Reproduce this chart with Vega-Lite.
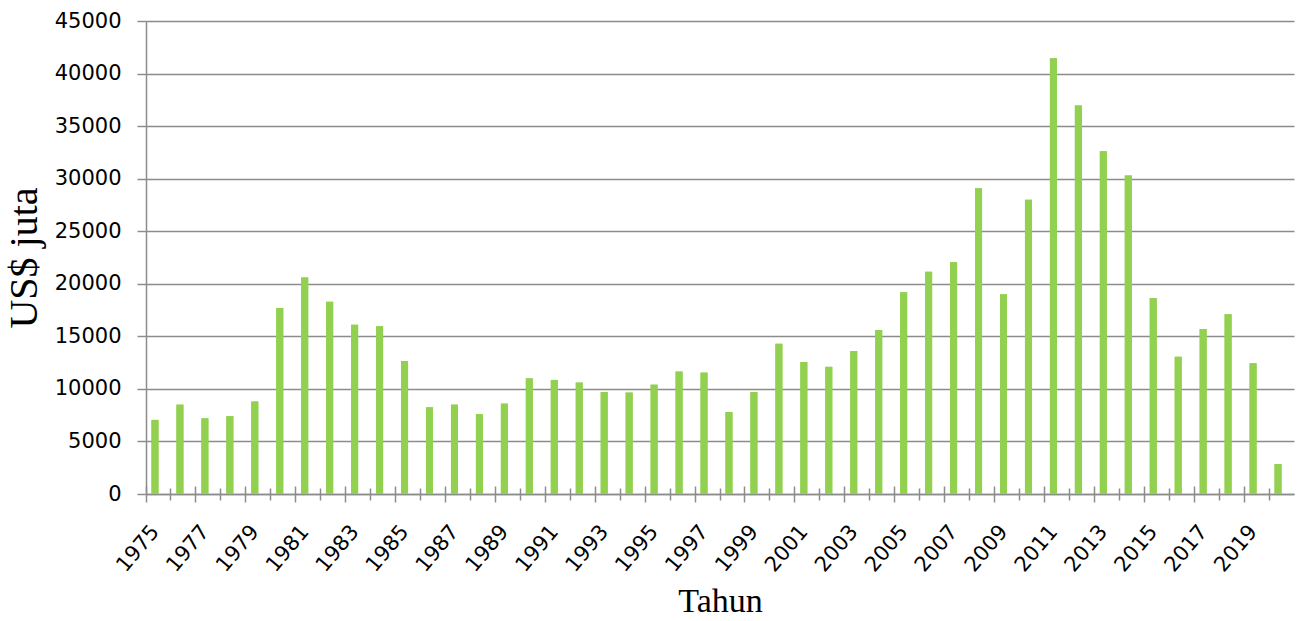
{
  "$schema": "https://vega.github.io/schema/vega-lite/v6.json",
  "autosize": "none",
  "width": 1148,
  "height": 473,
  "padding": {"left": 146, "top": 21, "right": 11, "bottom": 127},
  "background": "white",
  "data": {"values": [
    {"year": 1975, "value": 7050}, {"year": 1976, "value": 8500}, {"year": 1977, "value": 7200}, {"year": 1978, "value": 7400},
    {"year": 1979, "value": 8800}, {"year": 1980, "value": 17700}, {"year": 1981, "value": 20600}, {"year": 1982, "value": 18300},
    {"year": 1983, "value": 16100}, {"year": 1984, "value": 15950}, {"year": 1985, "value": 12650}, {"year": 1986, "value": 8250},
    {"year": 1987, "value": 8500}, {"year": 1988, "value": 7600}, {"year": 1989, "value": 8600}, {"year": 1990, "value": 11000},
    {"year": 1991, "value": 10850}, {"year": 1992, "value": 10600}, {"year": 1993, "value": 9700}, {"year": 1994, "value": 9650},
    {"year": 1995, "value": 10400}, {"year": 1996, "value": 11650}, {"year": 1997, "value": 11550}, {"year": 1998, "value": 7800},
    {"year": 1999, "value": 9700}, {"year": 2000, "value": 14300}, {"year": 2001, "value": 12550}, {"year": 2002, "value": 12100},
    {"year": 2003, "value": 13600}, {"year": 2004, "value": 15600}, {"year": 2005, "value": 19200}, {"year": 2006, "value": 21150},
    {"year": 2007, "value": 22050}, {"year": 2008, "value": 29100}, {"year": 2009, "value": 19000}, {"year": 2010, "value": 28000},
    {"year": 2011, "value": 41450}, {"year": 2012, "value": 36950}, {"year": 2013, "value": 32600}, {"year": 2014, "value": 30300},
    {"year": 2015, "value": 18650}, {"year": 2016, "value": 13050}, {"year": 2017, "value": 15700}, {"year": 2018, "value": 17100},
    {"year": 2019, "value": 12450}, {"year": 2020, "value": 2850}
  ]},
  "config": {
    "view": {"stroke": null},
    "axis": {"labelFont": "DejaVu Sans", "labelColor": "#000000", "titleFont": "Liberation Serif", "titleColor": "#000000", "titleFontWeight": "normal"}
  },
  "layer": [
    {
      "mark": {"type": "bar", "color": "#92D050", "width": 7, "xOffset": -3.5},
      "encoding": {
        "x": {
          "field": "year", "type": "ordinal",
          "scale": {"paddingInner": 0, "paddingOuter": 0},
          "axis": {
            "title": "Tahun", "titleFontSize": 34, "titleY": 117, "titleBaseline": "alphabetic",
            "bandPosition": 0, "labelOffset": -3,
            "labelAngle": -50, "labelFontSize": 21, "labelPadding": 26,
            "labelOverlap": false,
            "labelExpr": "datum.value % 2 == 1 ? datum.label : ''",
            "domainColor": "#8c8c8c", "domainWidth": 1.5,
            "tickColor": "#8c8c8c", "tickWidth": 1.5,
            "tickSize": {"condition": {"test": "datum.value % 2 == 1", "value": 8}, "value": 6}
          }
        },
        "y": {
          "field": "value", "type": "quantitative",
          "scale": {"domain": [0, 45000], "nice": false},
          "axis": {
            "title": "US$ juta", "titleFontSize": 40, "titleX": -110, "titleBaseline": "alphabetic",
            "values": [0, 5000, 10000, 15000, 20000, 25000, 30000, 35000, 40000, 45000],
            "format": "d", "labelFontSize": 21, "labelPadding": 16,
            "grid": true, "gridColor": "#8c8c8c", "gridWidth": 1.4,
            "domainColor": "#8c8c8c", "domainWidth": 1.5,
            "tickColor": "#8c8c8c", "tickWidth": 1.5, "tickSize": 9
          }
        }
      }
    },
    {
      "mark": {"type": "bar", "color": "#92D050", "width": 7, "xOffset": -3.5},
      "encoding": {
        "x": {
          "field": "year", "type": "ordinal",
          "axis": {
            "orient": "bottom", "title": null, "labels": false, "domain": false,
            "bandPosition": 0,
            "tickColor": "#8c8c8c", "tickWidth": 1.5,
            "tickSize": {"condition": {"test": "datum.value % 2 == 1", "value": -8}, "value": -6}
          }
        },
        "y": {"field": "value", "type": "quantitative"}
      }
    }
  ],
  "resolve": {"axis": {"x": "independent"}}
}
